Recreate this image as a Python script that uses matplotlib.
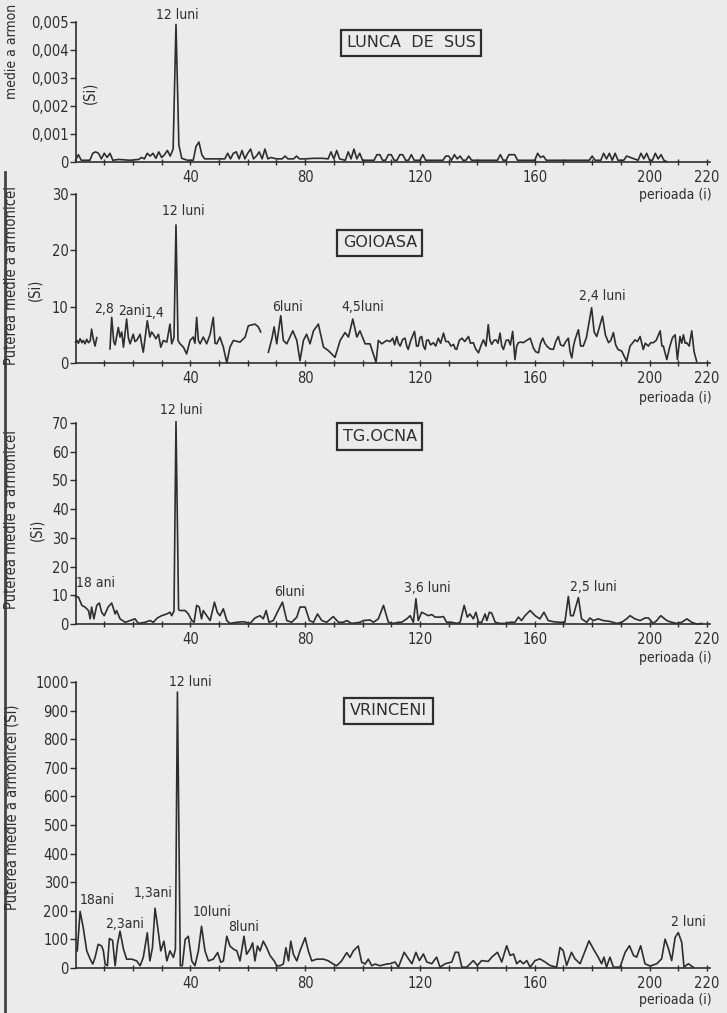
import numpy as np
import matplotlib
matplotlib.use("Agg")
from matplotlib import pyplot as plt
from matplotlib.lines import Line2D

# ---- data (perioada i -> puterea medie) ----
# LUNCA DE SUS, values in thousandths
lunca_i = [0, 1, 2, 5, 6, 7, 8, 9, 10, 11, 12, 13, 15, 19, 22, 23, 24, 25, 26, 27,
           28, 29, 30, 31, 32, 33, 34, 35, 36, 37, 39, 41, 42, 43, 44, 45, 50, 52, 53, 54,
           55, 56, 57, 58, 59, 60, 61, 62, 63, 64, 65, 66, 67, 68, 70, 72, 73, 74, 76, 77,
           78, 80, 83, 86, 88, 89, 90, 91, 92, 94, 95, 96, 97, 98, 99, 100, 101, 104, 105, 106,
           107, 108, 109, 110, 111, 112, 113, 114, 115, 116, 117, 118, 120, 121, 122, 128, 129, 130, 131, 132,
           133, 134, 135, 136, 137, 138, 146, 147, 148, 149, 150, 151, 152, 153, 154, 160, 161, 162, 163, 164,
           179, 180, 181, 183, 184, 185, 186, 187, 188, 189, 191, 192, 196, 197, 198, 199, 200, 201, 202, 203,
           204, 205, 206]
lunca_milli = [0.05, 0.25, 0.05, 0.05, 0.3, 0.35, 0.3, 0.1, 0.3, 0.15, 0.3, 0.05, 0.08, 0.05, 0.08, 0.15, 0.1, 0.3, 0.2, 0.3,
               0.12, 0.35, 0.15, 0.25, 0.4, 0.2, 0.45, 4.9, 0.6, 0.12, 0.05, 0.05, 0.55, 0.7, 0.25, 0.1, 0.1, 0.1, 0.3, 0.1,
               0.3, 0.35, 0.1, 0.4, 0.1, 0.3, 0.45, 0.1, 0.2, 0.35, 0.1, 0.45, 0.1, 0.15, 0.1, 0.1, 0.2, 0.1, 0.1, 0.2,
               0.1, 0.1, 0.12, 0.12, 0.1, 0.35, 0.1, 0.4, 0.1, 0.05, 0.35, 0.1, 0.45, 0.1, 0.3, 0.05, 0.05, 0.05, 0.25, 0.25,
               0.05, 0.05, 0.25, 0.25, 0.05, 0.05, 0.25, 0.25, 0.05, 0.05, 0.25, 0.05, 0.05, 0.25, 0.05, 0.05, 0.2, 0.2, 0.05, 0.25,
               0.1, 0.2, 0.05, 0.05, 0.2, 0.05, 0.05, 0.05, 0.25, 0.05, 0.05, 0.25, 0.25, 0.25, 0.05, 0.05, 0.3, 0.15, 0.2, 0.05,
               0.05, 0.2, 0.05, 0.05, 0.3, 0.1, 0.3, 0.05, 0.3, 0.05, 0.05, 0.2, 0.05, 0.3, 0.1, 0.3, 0.05, 0.05, 0.3, 0.1,
               0.25, 0.05, 0.0]

# GOIOASA (nan = break in the original trace)
goioasa_i = [0, 0.5, 1, 1.6, 2.2, 2.7, 3.3, 3.9, 4.5, 5.1, 5.6, 6.2, 6.8, 7.4, 8.5,
             12.0, 12.6, 13.3, 13.8, 14.9, 15.5, 16.1, 16.7, 17.8, 18.4, 19.0, 20.1, 20.7, 21.3, 22.5, 23.0,
             23.6, 25.0, 25.9, 26.5, 27.1, 28.0, 28.9, 29.7, 30.6, 31.8, 32.9, 33.5, 34.3, 35.0, 35.7, 36.4,
             37.6, 38.7, 39.9, 41.0, 41.6, 42.2, 42.8, 43.4, 44.5, 45.7, 46.9, 48.0, 48.6, 49.2, 50.3, 51.5,
             52.7, 53.8, 55.0, 57.3, 59.1, 60.2, 62.5, 63.7, 64.5, 65.5,
             67.2, 68.4, 69.2, 70.1, 71.5, 72.4, 73.6, 74.7, 75.7, 77.1, 78.2, 79.4, 80.5, 81.7, 82.9, 84.6,
             86.4, 88.1, 90.4, 92.2, 93.9, 95.1, 96.6, 98.0, 99.1, 100.9, 102.6, 104.7, 105.5, 106.7, 108.4,
             109.6, 110.5, 111.2, 111.9, 112.5, 113.1, 114.0, 114.8, 115.4, 115.9, 116.8, 118.1, 118.8, 119.4,
             120.0, 120.6, 121.2, 121.8, 122.3, 122.9, 123.7, 124.7, 125.5, 126.4, 127.2, 128.2, 129.0, 129.9,
             130.8, 131.7, 132.3, 132.8, 133.7, 134.6, 135.6, 136.9, 137.6, 138.6, 139.4, 140.4, 141.2, 142.1,
             143.0, 143.8, 144.4, 145.0, 145.8, 146.5, 147.2, 147.9, 148.5, 149.1, 150.0, 150.8, 151.5, 152.3,
             153.1, 153.7, 154.3, 155.2, 156.0, 157.2, 158.4, 159.5, 160.3, 161.3, 162.0, 162.8, 163.5, 164.2,
             165.3, 166.5, 167.3, 168.2, 169.0, 170.0, 170.8, 171.7, 172.3, 172.9, 173.5, 174.0, 175.2, 176.0,
             176.9, 178.0, 179.8, 180.7, 181.6, 183.6, 184.6, 185.7, 186.5, 187.4, 188.2, 189.0, 190.3, 192.0,
             193.2, 194.0, 194.9, 195.8, 196.7, 197.8, 198.5, 199.6, 200.4, 201.3, 202.3, 203.7, 204.3, 204.8,
             206.0, 207.1, 208.0, 208.9, 209.7, 210.6, 211.2, 211.8, 212.4, 212.9, 213.8, 214.7, 215.5, 216.4]
goioasa_p = [3.7, 4.0, 3.5, 4.3, 3.6, 4.0, 3.4, 4.2, 3.6, 3.9, 6.0, 4.2, 3.0, 4.5, np.nan,
             2.5, 8.1, 3.8, 3.2, 6.3, 4.6, 5.5, 2.8, 7.8, 4.5, 3.4, 5.1, 3.8, 4.0, 5.1, 3.5,
             1.9, 7.5, 4.6, 5.5, 5.1, 4.3, 5.1, 2.8, 4.0, 3.7, 6.9, 3.4, 4.5, 24.5, 4.0, 3.4,
             2.8, 1.6, 4.0, 4.6, 3.5, 8.1, 4.0, 3.4, 4.6, 3.4, 5.1, 8.1, 3.5, 3.4, 4.6, 2.8,
             0.0, 2.8, 4.0, 3.7, 4.6, 6.6, 6.9, 6.4, 5.5, np.nan,
             1.9, 4.3, 6.4, 3.4, 8.4, 4.0, 3.4, 4.6, 5.7, 4.0, 0.4, 4.0, 5.1, 3.4, 5.7, 6.9,
             2.8, 2.2, 1.0, 4.0, 5.4, 4.6, 7.8, 4.6, 5.7, 3.4, 3.4, 0.1, 4.0, 3.4, 4.0,
             3.8, 4.4, 3.2, 4.7, 3.5, 3.0, 4.2, 4.4, 3.0, 2.4, 4.0, 5.6, 3.0, 3.0,
             4.5, 4.7, 3.0, 2.4, 4.0, 4.1, 3.2, 3.6, 3.0, 4.4, 3.5, 5.3, 3.8, 3.8,
             3.0, 3.3, 2.5, 2.4, 4.0, 4.4, 3.8, 4.7, 3.5, 3.6, 2.5, 1.8, 3.0, 4.1,
             3.0, 6.8, 4.0, 3.3, 4.0, 4.1, 3.5, 5.3, 3.0, 2.4, 4.0, 4.1, 3.2, 5.6,
             0.6, 3.0, 3.6, 3.7, 3.6, 4.0, 4.4, 2.7, 2.0, 1.8, 3.5, 4.4, 3.5, 3.0,
             2.5, 2.4, 3.8, 4.7, 3.2, 3.0, 3.8, 4.4, 2.0, 0.9, 3.0, 4.1, 5.9, 3.0,
             3.0, 4.5, 9.8, 5.5, 4.7, 8.3, 5.0, 3.6, 4.0, 5.4, 3.2, 2.4, 2.1, 0.3,
             3.0, 3.5, 4.1, 3.8, 4.7, 2.4, 3.5, 3.0, 3.6, 3.6, 4.0, 5.7, 3.0, 3.0,
             0.6, 3.0, 4.5, 5.0, 0.6, 4.7, 3.5, 5.0, 3.5, 3.6, 3.0, 5.7, 2.0, 0.3]

# TG. OCNA
ocna_i = [0, 1.0, 2.2, 3.3, 4.5, 5.1, 5.6, 6.4, 7.4, 8.3, 9.1, 10.0, 11.4, 12.6, 13.8, 14.3, 15.5, 17.3,
          19.0, 20.7, 21.9, 24.2, 26.0, 27.1, 28.5, 30.0, 31.8, 32.9, 33.5, 34.3, 35.0, 35.9, 36.4, 38.2,
          39.3, 40.5, 41.3, 42.2, 43.1, 43.9, 44.5, 45.7, 46.9, 48.4, 49.4, 50.3, 51.5, 52.7, 53.8, 56.2,
          58.5, 60.8, 62.5, 64.3, 65.4, 66.4, 67.4, 68.9, 70.3, 72.1, 73.6, 75.3, 77.1, 78.2, 80.0, 81.5,
          82.9, 84.3, 85.8, 87.5, 89.8, 91.6, 93.3, 94.5, 96.2, 99.1, 100.3, 102.6, 103.8, 105.5, 107.3, 109.0,
          110.7, 112.5, 113.6, 115.4, 116.6, 117.7, 118.6, 119.4, 120.6, 121.8, 122.9, 124.1, 125.3, 127.0,
          128.2, 129.3, 131.1, 132.8, 134.0, 135.4, 136.5, 137.4, 138.6, 139.5, 140.4, 141.5, 142.7, 143.3,
          144.2, 145.0, 146.2, 147.9, 149.7, 151.4, 153.1, 154.3, 155.4, 156.6, 158.4, 160.1, 161.8, 163.2,
          164.7, 166.5, 168.8, 170.5, 171.7, 172.5, 173.4, 175.2, 176.3, 178.1, 179.2, 180.4, 182.1, 183.9,
          186.2, 188.5, 190.3, 192.0, 193.2, 194.9, 196.7, 198.4, 199.6, 201.3, 202.5, 203.9, 206.0, 207.7,
          209.5, 211.2, 213.0, 214.7, 216.4, 218.2]
ocna_p = [9.6, 9.4, 6.5, 5.9, 4.7, 1.8, 5.9, 1.8, 6.5, 7.3, 4.1, 2.9, 6.0, 7.3, 3.5, 4.7, 1.8, 0.6,
          1.2, 1.8, 0.2, 0.6, 1.2, 0.6, 2.1, 2.9, 3.5, 4.1, 2.9, 4.5, 70.5, 5.0, 4.7, 4.7,
          3.5, 1.2, 0.6, 6.5, 5.9, 1.8, 4.7, 2.9, 1.2, 7.6, 4.1, 2.9, 5.3, 1.2, 0.2, 0.6,
          0.8, 0.2, 2.1, 2.9, 1.8, 4.7, 0.6, 1.2, 4.1, 7.6, 1.2, 0.6, 2.4, 5.9, 5.9, 1.2,
          0.6, 3.5, 1.2, 0.6, 2.6, 0.6, 0.6, 1.2, 0.2, 0.6, 1.2, 1.4, 0.6, 1.8, 6.5, 0.6,
          0.2, 0.6, 0.6, 1.8, 2.9, 0.6, 8.8, 1.2, 4.1, 3.5, 2.9, 3.3, 2.4, 2.4,
          2.6, 0.6, 0.6, 0.2, 0.6, 6.5, 2.4, 3.5, 1.8, 4.1, 0.6, 0.6, 3.5, 1.2,
          4.1, 3.8, 0.6, 0.2, 0.2, 0.6, 0.6, 2.4, 1.2, 2.9, 4.7, 2.9, 1.8, 4.1,
          1.2, 0.8, 0.6, 0.6, 9.6, 2.9, 2.9, 9.2, 1.8, 0.6, 2.1, 1.2, 1.8, 1.2,
          0.9, 0.2, 0.6, 1.8, 2.9, 1.8, 1.2, 2.1, 2.1, 0.2, 1.2, 2.9, 1.2, 0.6,
          0.2, 0.6, 1.8, 0.6, 0.0, 0.2]

# VRINCENI
vrinceni_i = [0.6, 1.6, 2.7, 3.9, 5.1, 6.0, 6.8, 7.9, 9.1, 9.7, 10.3, 11.1, 11.8, 12.9, 13.8, 14.6, 15.5,
              16.7, 17.8, 19.6, 21.3, 22.5, 23.6, 25.0, 25.9, 26.8, 27.7, 28.5, 29.7, 30.8, 31.8, 32.9, 34.1,
              34.8, 35.5, 36.5, 37.2, 38.2, 39.3, 40.5, 41.6, 42.8, 43.9, 45.1, 46.3, 48.0, 49.5, 50.6, 51.5,
              52.7, 53.8, 55.0, 56.2, 57.3, 58.7, 59.6, 60.8, 61.7, 62.5, 63.4, 64.3, 65.4, 66.6, 67.8, 69.2,
              70.1, 71.3, 72.4, 73.3, 74.2, 75.0, 75.9, 77.1, 78.2, 80.0, 81.1, 82.3, 84.0, 86.4, 88.1, 89.8,
              91.0, 92.7, 94.5, 95.6, 96.8, 98.5, 99.7, 100.9, 102.0, 103.2, 104.4, 106.1, 108.4,
              109.6, 111.3, 112.5, 114.5, 116.0, 117.2, 118.6, 119.8, 121.2, 122.4, 124.1, 125.8, 127.0, 128.8,
              131.1, 132.3, 133.4, 134.6, 136.3, 138.6, 140.0, 141.5, 143.8, 145.0, 147.0, 148.5, 150.2, 151.4,
              152.6, 153.7, 154.9, 156.0, 157.2, 158.4, 160.1, 161.8, 163.6, 165.3, 167.6, 168.8, 169.9, 171.1,
              172.8, 174.0, 175.8, 178.9, 180.4, 182.1, 183.3, 184.1, 185.0, 186.2, 187.4, 189.7, 191.5, 193.0,
              194.4, 195.5, 196.9, 198.4, 200.2, 202.5, 204.2, 205.4, 206.6, 207.7, 208.9, 210.0, 211.2, 212.0,
              213.5, 215.2]
vrinceni_p = [60, 198, 140, 60, 31, 14, 37, 83, 77, 60, 14, 8, 103, 97, 8, 83, 129,
              66, 31, 31, 25, 8, 37, 123, 25, 71, 209, 152, 60, 94, 25, 60, 37,
              66, 965, 8, 8, 100, 111, 25, 8, 60, 146, 60, 25, 31, 54, 20, 25,
              111, 77, 66, 60, 25, 111, 48, 66, 88, 25, 77, 60, 94, 71, 43, 25,
              8, 8, 14, 71, 25, 94, 48, 25, 60, 106, 60, 25, 31, 31, 25, 14,
              8, 25, 54, 37, 60, 77, 20, 14, 31, 8, 14, 8, 14,
              15, 21, 3, 55, 32, 15, 55, 26, 49, 21, 15, 38, 3, 15,
              21, 55, 55, 3, 3, 26, 9, 26, 23, 38, 55, 21, 78, 44,
              49, 15, 26, 15, 26, 3, 26, 32, 21, 9, 3, 72, 61, 9,
              55, 32, 15, 95, 67, 38, 15, 38, 3, 38, 3, 3, 55, 78,
              44, 38, 78, 15, 7, 15, 32, 101, 67, 26, 107, 124, 90, 3,
              15, 3]

stations = ["LUNCA  DE  SUS", "GOIOASA", "TG.OCNA", "VRINCENI"]
lunca_yticks = [0, 0.001, 0.002, 0.003, 0.004, 0.005]
lunca_ylabels = ["0", "0,001", "0,002", "0,003", "0,004", "0,005"]
goioasa_yticks = [0, 10, 20, 30]
ocna_yticks = [0, 10, 20, 30, 40, 50, 60, 70]
vrinceni_yticks = [0, 100, 200, 300, 400, 500, 600, 700, 800, 900, 1000]
x_ticks = [40, 80, 120, 160, 200, 220]

# (label, perioada, value) annotations above the peaks
lunca_notes = [("12 luni", 35.5, 0.00524)]
goioasa_notes = [("12 luni", 37.4, 26.9), ("2,8", 10.0, 9.6), ("2ani", 19.4, 9.3), ("1,4", 27.6, 8.8),
                 ("6luni", 74.0, 10.0), ("4,5luni", 100.0, 10.0), ("2,4 luni", 183.7, 11.8)]
ocna_notes = [("12 luni", 36.8, 74.6), ("18 ani", 6.8, 14.2), ("6luni", 74.7, 11.3),
              ("3,6 luni", 122.4, 12.4), ("2,5 luni", 180.4, 13.0)]
vrinceni_notes = [("12 luni", 40.0, 1000), ("18ani", 7.4, 237), ("2,3ani", 17.2, 154), ("1,3ani", 27.1, 261),
                  ("10luni", 47.4, 197), ("8luni", 58.7, 144), ("2 luni", 213.4, 162)]

plt.rcParams['font.family'] = ['DejaVu Sans']
plt.rcParams['font.stretch'] = 'condensed'
ink = '#2e2e2e'
paper = '#ebebeb'

fig = plt.figure(figsize=(7.27, 10.13), dpi=100, facecolor=paper)

panels = [
    (lunca_i, [v * 1e-3 for v in lunca_milli], lunca_yticks, lunca_ylabels, lunca_notes,
     [0.1039, 0.8404, 0.8725, 0.1382], (117, 0.00424)),
    (goioasa_i, goioasa_p, goioasa_yticks, [str(t) for t in goioasa_yticks], goioasa_notes,
     [0.1039, 0.6417, 0.8725, 0.1668], (106, 21.3)),
    (ocna_i, ocna_p, ocna_yticks, [str(t) for t in ocna_yticks], ocna_notes,
     [0.1039, 0.3840, 0.8725, 0.1984], (106, 65.3)),
    (vrinceni_i, vrinceni_p, vrinceni_yticks, [str(t) for t in vrinceni_yticks], vrinceni_notes,
     [0.1039, 0.0444, 0.8725, 0.2823], (109, 899)),
]

for k, (xs, ys, yt, ytl, notes, rect, boxpos) in enumerate(panels):
    ax = fig.add_axes(rect)
    ax.set_facecolor('none')
    ax.plot(xs, ys, color=ink, lw=1.2, clip_on=False)
    ax.set_xlim(0, 221)
    ax.set_ylim(0, yt[-1])
    for s in ['top', 'right']:
        ax.spines[s].set_visible(False)
    for s in ['left', 'bottom']:
        ax.spines[s].set_color(ink)
        ax.spines[s].set_linewidth(1.2)
    ax.set_yticks(yt)
    ax.set_yticklabels(ytl)
    ax.set_xticks(x_ticks)
    ax.set_xticks([t for t in range(10, 220, 10) if t not in x_ticks], minor=True)
    ax.tick_params(axis='y', direction='out', length=4, width=1, color=ink, labelsize=10.5,
                   labelcolor=ink, pad=1)
    ax.tick_params(axis='x', which='both', direction='inout', length=4, width=1, color=ink,
                   labelsize=10.5, labelcolor=ink, pad=4)
    for lab, xv, yv in notes:
        ax.text(xv, yv, lab, ha='center', va='center', fontsize=10, color=ink, clip_on=False)
    ax.text(boxpos[0], boxpos[1], stations[k], ha='center', va='center', fontsize=11.5,
            fontstretch='normal', color=ink,
            bbox=dict(boxstyle='square,pad=0.35', fc='none', ec=ink, lw=1.6))

# axis titles
fig.text(0.0165, 0.949, "medie a armon", rotation=90, ha='center', va='center', fontsize=10, color=ink)
fig.text(0.124, 0.908, "(Si)", rotation=90, ha='center', va='center', fontsize=10.5, color=ink)
fig.text(0.0165, 0.728, "Puterea medie a armonicei", rotation=90, ha='center', va='center', fontsize=10.5, color=ink)
fig.text(0.048, 0.714, "(Si)", rotation=90, ha='center', va='center', fontsize=10.5, color=ink)
fig.text(0.0165, 0.4867, "Puterea medie a armonicei", rotation=90, ha='center', va='center', fontsize=10.5, color=ink)
fig.text(0.051, 0.477, "(Si)", rotation=90, ha='center', va='center', fontsize=10.5, color=ink)
fig.text(0.0165, 0.2034, "Puterea medie a armonicei (Si)", rotation=90, ha='center', va='center', fontsize=10.5, color=ink)
for yy in [0.8075, 0.607, 0.3504, 0.0128]:
    fig.text(0.979, yy, "perioada (i)", ha='right', va='center', fontsize=10, color=ink)

fig.add_artist(Line2D([0.007, 0.007], [0.0, 0.83], transform=fig.transFigure, color='#444444', lw=2))

fig.savefig("out.png", dpi=100, facecolor=paper)
